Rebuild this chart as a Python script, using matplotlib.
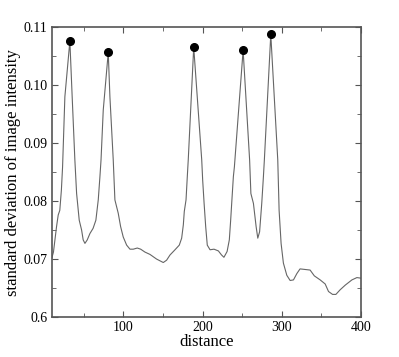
import matplotlib
matplotlib.use('Agg')
import matplotlib.pyplot as plt
from matplotlib.ticker import MultipleLocator, FixedLocator, FixedFormatter

# traced profile
distance = [10, 12, 15.9, 18, 20, 22, 23.5, 26.4, 32.7, 35.6, 39, 41.2, 44.5, 47.5, 49.5, 51.7,
            54.6, 58, 62, 65.5, 68.5, 70.6, 72, 74.8, 81.1, 83.2, 87.4, 89.5, 93.7, 96.7, 100,
            104.3, 108.5, 112.7, 117.7, 122, 127.4, 133.7, 142, 150.5, 154.7, 159, 165.3, 170.7,
            173.7, 175.8, 177, 179.2, 180.8, 182, 188.9, 199, 200.2, 202, 204, 206, 209.5, 214.5,
            220, 224, 227, 231, 233.8, 235.5, 236.8, 238.9, 240.2, 251.2, 259.4, 261, 264.2,
            267.6, 269.7, 272, 274.7, 276.8, 278, 286.1, 294.9, 296.6, 299.1, 302, 306.3, 310.5,
            314.7, 319, 323, 329.4, 335.7, 341, 348.4, 354.7, 358.9, 364, 368.2, 373.6, 380,
            388.4, 394.7, 400]
stdev = [0.0702, 0.0712, 0.0756, 0.0776, 0.0784, 0.0819, 0.0859, 0.0980, 0.1076, 0.0980,
         0.0871, 0.0813, 0.0767, 0.0750, 0.0733, 0.0727, 0.0733, 0.0744, 0.0753, 0.0767,
         0.0802, 0.0842, 0.0871, 0.0957, 0.10564, 0.0980, 0.0871, 0.0802, 0.0779, 0.0756,
         0.0738, 0.0724, 0.0717, 0.0717, 0.0719, 0.0717, 0.0712, 0.0708, 0.0700, 0.0694,
         0.0698, 0.0707, 0.0716, 0.0724, 0.0736, 0.0759, 0.0782, 0.0802, 0.0842, 0.0871,
         0.10655, 0.0871, 0.0836, 0.0796, 0.0756, 0.0724, 0.0716, 0.0717, 0.0714, 0.0707,
         0.0703, 0.0713, 0.0733, 0.0767, 0.0796, 0.0842, 0.0859, 0.10603, 0.0871, 0.0813,
         0.0796, 0.0756, 0.0736, 0.0747, 0.0796, 0.0842, 0.0871, 0.10874, 0.0871, 0.0784,
         0.0727, 0.0693, 0.0672, 0.0663, 0.0664, 0.0675, 0.0683, 0.0682, 0.0681, 0.0671,
         0.0664, 0.0657, 0.0644, 0.0639, 0.0639, 0.0647, 0.0655, 0.0664, 0.0668, 0.0667]

# peak markers
peak_x = [32.7, 81.1, 188.9, 251.2, 286.1]
peak_y = [0.1076, 0.10564, 0.10655, 0.10603, 0.10874]

ytick_vals = [0.06, 0.07, 0.08, 0.09, 0.10, 0.11]
ytick_labels = ['0.6', '0.07', '0.08', '0.09', '0.10', '0.11']

plt.rcParams['font.family'] = ['Liberation Serif', 'DejaVu Serif']

fig = plt.figure(figsize=(3.99, 3.57), dpi=100)
ax = fig.add_axes([0.130, 0.112, 0.775, 0.812])

ax.plot(distance, stdev, color='#666666', linewidth=0.8)
ax.plot(peak_x, peak_y, 'o', color='black', markersize=5.5)

ax.set_xlim(10, 400)
ax.set_ylim(0.06, 0.11)
ax.xaxis.set_major_locator(FixedLocator([100, 200, 300, 400]))
ax.xaxis.set_minor_locator(MultipleLocator(50))
ax.yaxis.set_major_locator(FixedLocator(ytick_vals))
ax.yaxis.set_major_formatter(FixedFormatter(ytick_labels))
ax.yaxis.set_minor_locator(MultipleLocator(0.005))

ax.tick_params(which='both', direction='in', top=True, right=True,
               labelsize=10, color='#555555', pad=3)
ax.tick_params(which='major', length=4)
ax.tick_params(which='minor', length=3)
for s in ax.spines.values():
    s.set_color('#555555')
    s.set_linewidth(1.2)

ax.set_xlabel('distance', fontsize=12, labelpad=0)
ax.set_ylabel('standard deviation of image intensity', fontsize=12, labelpad=2)

fig.savefig('out.png', dpi=100)
